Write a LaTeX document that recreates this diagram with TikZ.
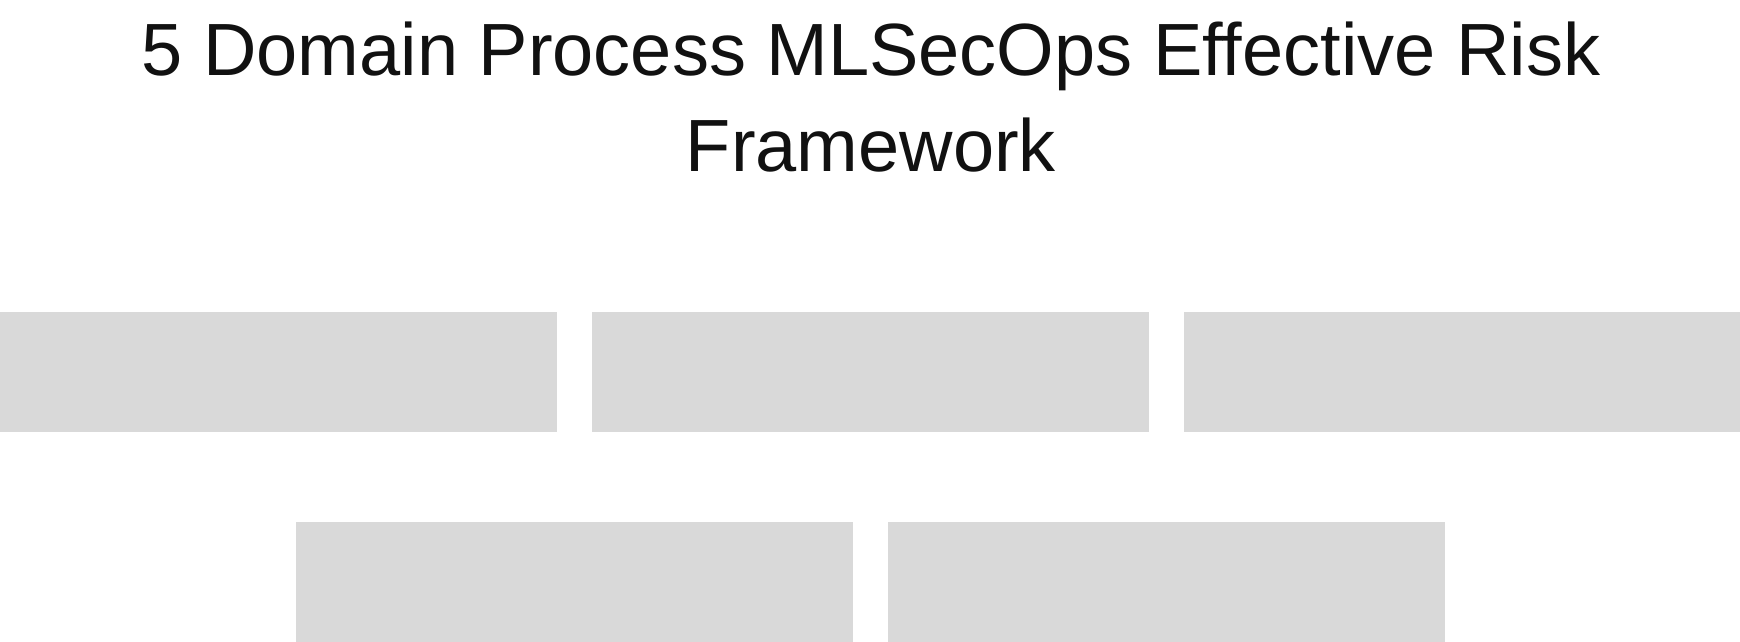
\documentclass[tikz,border=0pt]{standalone}
\usepackage{fontspec}
\setmainfont{Liberation Sans}
\usetikzlibrary{positioning}
\definecolor{domaingray}{HTML}{D9D9D9}
\definecolor{titleink}{HTML}{111111}
\tikzset{domain box/.style={fill=domaingray,draw=none,inner sep=0pt,
    minimum width=556.67pt,minimum height=120pt},
  title line/.style={text=titleink,inner sep=0pt,anchor=base,
    font=\fontsize{74}{95}\selectfont}}

\begin{document}
\begin{tikzpicture}[x=1pt,y=-1pt]
      \useasboundingbox (0,0) rectangle (1740,642);

      \node[title line] (title1) at (871,76) {5 Domain Process MLSecOps Effective Risk};
      \node[title line] (title2) at (871,171) {Framework};

      \node[domain box] (d1) at (278.33,372) {};
      \node[domain box,right=35pt of d1] (d2) {};
      \node[domain box,right=35pt of d2] (d3) {};

      \node[domain box] (d4) at (574.17,582) {};
      \node[domain box,right=35pt of d4] (d5) {};
    \end{tikzpicture}
\end{document}
